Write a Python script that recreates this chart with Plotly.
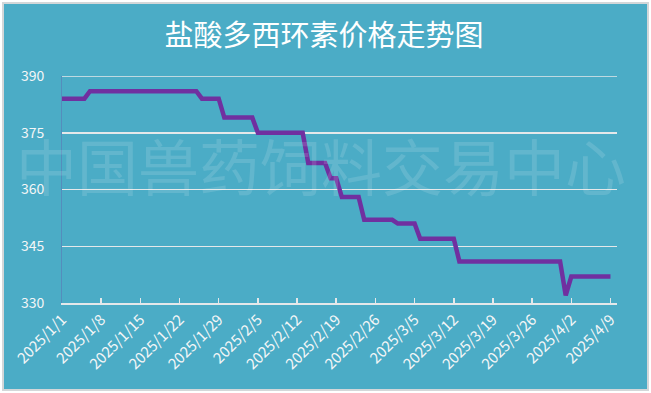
import plotly.graph_objects as go

# ---- data ----
dates = ["2025-01-01", "2025-01-05", "2025-01-06", "2025-01-25", "2025-01-26",
         "2025-01-29", "2025-01-30", "2025-02-04", "2025-02-05", "2025-02-13",
         "2025-02-14", "2025-02-17", "2025-02-18", "2025-02-19", "2025-02-20",
         "2025-02-23", "2025-02-24", "2025-03-01", "2025-03-02", "2025-03-05",
         "2025-03-06", "2025-03-12", "2025-03-13", "2025-03-31", "2025-04-01",
         "2025-04-02", "2025-04-09"]
prices = [384, 384, 386, 386, 384,
          384, 379, 379, 375, 375,
          367, 367, 363, 363, 358,
          358, 352, 352, 351, 351,
          347, 347, 341, 341, 332,
          337, 337]

tick_dates = ["2025-01-01", "2025-01-08", "2025-01-15", "2025-01-22", "2025-01-29",
              "2025-02-05", "2025-02-12", "2025-02-19", "2025-02-26", "2025-03-05",
              "2025-03-12", "2025-03-19", "2025-03-26", "2025-04-02", "2025-04-09"]
tick_labels = ["2025/1/1", "2025/1/8", "2025/1/15", "2025/1/22", "2025/1/29",
               "2025/2/5", "2025/2/12", "2025/2/19", "2025/2/26", "2025/3/5",
               "2025/3/12", "2025/3/19", "2025/3/26", "2025/4/2", "2025/4/9"]
y_ticks = [330, 345, 360, 375, 390]

title_text = "盐酸多西环素价格走势图"
watermark = "中国兽药饲料交易中心"

# ---- layout geometry (pixels) ----
W, H = 651, 393
L, R, T, B = 62, 34, 76, 90
pw, ph = W - L - R, H - T - B

def px_x(p):
    return (p - L) / pw

def px_y(p):
    return (H - B - p) / ph

BG = "#4BACC6"
LINE = "#7030A0"
LIGHT = "#E4E8EA"
FONT = "Noto Sans CJK SC, Noto Sans, sans-serif"

fig = go.Figure()
fig.add_trace(go.Scatter(
    x=dates, y=prices, mode="lines",
    line=dict(color=LINE, width=4.5),
    hoverinfo="skip", showlegend=False,
))

fig.update_layout(
    width=W, height=H,
    margin=dict(l=L, r=R, t=T, b=B, pad=0),
    paper_bgcolor="white",
    plot_bgcolor="rgba(0,0,0,0)",
    font=dict(family=FONT, color="#F4F6F7", size=14),
    title=dict(text=title_text, x=324 / W, xanchor="center",
               y=1 - 36 / H, yanchor="middle", yref="container",
               font=dict(family=FONT, size=29, color="white")),
    shapes=[
        dict(type="rect", xref="paper", yref="paper", layer="below",
             x0=px_x(3), x1=px_x(648), y0=px_y(390), y1=px_y(3),
             fillcolor=BG, line=dict(color="#D3D7D9", width=2)),
        # top gridline (plotly omits the one at the range edge)
        dict(type="line", xref="paper", yref="y", layer="below",
             x0=0, x1=1, y0=y_ticks[-1], y1=y_ticks[-1],
             line=dict(color=LIGHT, width=1.5)),
    ],
    annotations=[dict(text=watermark, xref="paper", yref="paper",
                      x=px_x(321), y=px_y(164), xanchor="center", yanchor="middle",
                      showarrow=False,
                      font=dict(family=FONT, size=61, color="rgba(255,255,255,0.13)"))],
)

fig.update_xaxes(
    type="date",
    range=["2025-01-01", "2025-04-10 04:00"],
    tickvals=tick_dates, ticktext=tick_labels, tickangle=-45,
    ticks="inside", ticklen=5, tickwidth=1.5, tickcolor=LIGHT,
    showline=True, linecolor=LIGHT, linewidth=2,
    showgrid=False, zeroline=False,
    tickfont=dict(size=15, color="#F4F6F7"),
)
fig.update_yaxes(
    range=[330, 390], tickvals=y_ticks,
    showgrid=True, gridcolor=LIGHT, gridwidth=1.5,
    showline=True, linecolor="rgba(112,48,160,0.25)", linewidth=1,
    ticks="", ticklabelstandoff=14, zeroline=False,
    tickfont=dict(size=14, color="#F4F6F7"),
)

fig.write_html("out.html",
               config={"displayModeBar": False, "staticPlot": True},
               post_script="document.body.style.margin='0';document.body.style.padding='0';")
